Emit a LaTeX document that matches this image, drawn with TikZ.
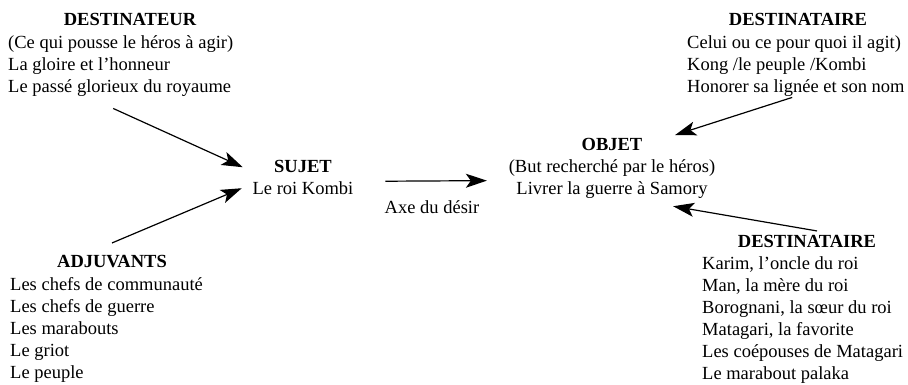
\documentclass[tikz,border=0pt]{standalone}
\usepackage{fontspec}
\setmainfont{Liberation Serif}
\usetikzlibrary{arrows.meta}

\begin{document}
\begin{tikzpicture}[x=1pt,y=-1pt,inner sep=0pt,font=\fontsize{18.5}{22}\selectfont,
		titre/.style={font=\fontsize{18.5}{22}\selectfont\bfseries,anchor=base},
		liste/.style={align=left,anchor=north west},
		bloc/.style={align=center,anchor=north},
		fleche/.style={-{Stealth[length=21pt,width=14pt,inset=5pt]},line width=1.2pt}]
		\useasboundingbox (0,0) rectangle (908,384);
		\node[titre] (destr) at (130,25) {DESTINATEUR};
		\node[liste] (destrl) at (8,35.2) {(Ce qui pousse le héros à agir)\\La gloire et l’honneur\\Le passé glorieux du royaume};
		\node[titre] (desta) at (798,25) {DESTINATAIRE};
		\node[liste] (destal) at (687,35.2) {Celui ou ce pour quoi il agit)\\Kong /le peuple /Kombi\\Honorer sa lignée et son nom};
		\node[bloc] (sujet) at (303,159.6) {\textbf{SUJET}\\Le roi Kombi};
		\node[bloc] (objet) at (612,137.6) {\textbf{OBJET}\\(But recherché par le héros)\\Livrer la guerre à Samory};
		\node[anchor=base] (axe) at (432,213) {Axe du désir};
		\node[titre] (adj) at (112,267) {ADJUVANTS};
		\node[liste] (adjl) at (10,277.2) {Les chefs de communauté\\Les chefs de guerre\\Les marabouts\\Le griot\\Le peuple};
		\node[titre] (destb) at (807,247) {DESTINATAIRE};
		\node[liste] (destbl) at (702,256.2) {Karim, l’oncle du roi\\Man, la mère du roi\\Borognani, la sœur du roi\\Matagari, la favorite\\Les coépouses de Matagari\\Le marabout palaka};
		\draw[fleche] ([shift={(-7.5,12)}]destrl.south) -- ([shift={(-9.7,-9.8)}]sujet.west);
		\draw[fleche] ([shift={(0,-11.6)}]adj.north) -- ([shift={(-10.7,11.2)}]sujet.west);
		\draw[fleche] ([shift={(31.7,4.2)}]sujet.east) -- ([shift={(-21.7,12.7)}]objet.west);
		\draw[fleche] ([shift={(-3.7,1)}]destal.south) -- ([shift={(-40.3,-2.6)}]objet.north east);
		\draw[fleche] ([shift={(10,-3.6)}]destb.north) -- ([shift={(-42.3,8)}]objet.south east);
	\end{tikzpicture}
\end{document}
